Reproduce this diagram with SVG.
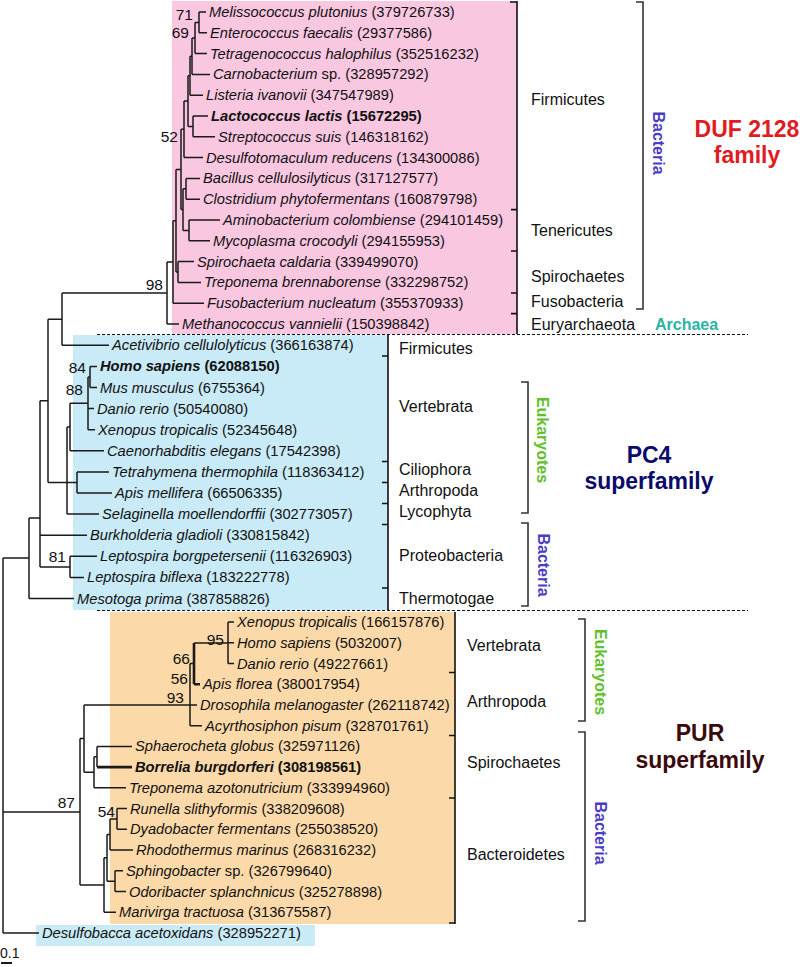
<svg xmlns="http://www.w3.org/2000/svg" width="800" height="967" viewBox="0 0 800 967">
<style>
.t{font-family:"Liberation Sans",Arial,Helvetica,sans-serif;font-size:14.7px;fill:#111}
.i{font-style:italic}
.b{font-weight:bold}
.bs{font-family:"Liberation Sans",Arial,Helvetica,sans-serif;font-size:15.5px;fill:#111;text-anchor:end}
.cat{font-family:"Liberation Sans",Arial,Helvetica,sans-serif;font-size:16px;fill:#111}
.grp{font-family:"Liberation Sans",Arial,Helvetica,sans-serif;font-size:16px;font-weight:bold;text-anchor:middle}
.big{font-family:"Liberation Sans",Arial,Helvetica,sans-serif;font-size:23px;font-weight:bold;text-anchor:middle}
.tree path{fill:none;stroke:#1a1a1a;stroke-width:1.5}
.edge{fill:none;stroke:#111;stroke-width:1.6}
.brk{fill:none;stroke:#333;stroke-width:1.6}
.dash{stroke:#111;stroke-width:1.2;stroke-dasharray:3 2}
</style>
<g id="boxes">
<rect x="172" y="1" width="345" height="333" fill="#f9c7e0"/>
<rect x="73" y="335" width="315" height="275" fill="#c9eaf7"/>
<rect x="110" y="612" width="345" height="312" fill="#fcd9a9"/>
<rect x="36" y="925" width="279" height="21" fill="#c9eaf7"/>
</g>
<g id="box-edges">
<path class="edge" d="M517,1V334 M510,2H517 M511,209.6H517 M511,251H517 M511,293H517 M511,313.6H517"/>
<path class="edge" d="M388,335V610 M382,356H388 M382,461.5H388 M382,482.5H388 M382,503.5H388 M382,524.5H388 M382,588H388"/>
<path class="edge" d="M455,612V924 M449,672.5H455 M449,735.5H455 M449,798H455 M449,923H455"/>
<line class="dash" x1="97" y1="334.5" x2="748" y2="334.5"/>
<line class="dash" x1="97" y1="610.5" x2="748" y2="610.5"/>
</g>
<g id="connectors" class="tree">
<path d="M199,12V32.8 M199,12H206 M199,32.8H207"/>
<path d="M195,22.4V53.6 M195,22.4H199 M195,53.6H207"/>
<path d="M192,38V74.4 M192,38H195 M192,74.4H210"/>
<path d="M190,56.2V95.2 M190,56.2H192 M190,95.2H203"/>
<path d="M193,116V136.8 M193,116H208 M193,136.8H215"/>
<path d="M188,75.7V126.4 M188,75.7H190 M188,126.4H193"/>
<path d="M184,101V157.6 M184,101H188 M184,157.6H203"/>
<path d="M186,178.4V199.2 M186,178.4H200 M186,199.2H200"/>
<path d="M189,220V240.8 M189,220H220 M189,240.8H210"/>
<path d="M183,188.8V230.4 M183,188.8H186 M183,230.4H189"/>
<path d="M181,129.3V209.6 M181,129.3H184 M181,209.6H183"/>
<path d="M178,261.6V282.4 M178,261.6H194 M178,282.4H201"/>
<path d="M176,169.5V272 M176,169.5H181 M176,272H178"/>
<path d="M173,220.7V303.2 M173,220.7H176 M173,303.2H204"/>
<path d="M167,262V324 M167,262H173 M167,324H179"/>
<path d="M62,293V345.3 M62,293H167 M62,345.3H109"/>
<path d="M90,366.4V387.5 M90,366.4H97 M90,387.5H97"/>
<path d="M88,377V429.7 M88,377H90 M88,408.6H94 M88,429.7H95"/>
<path d="M70,403.3V450.8 M70,403.3H88 M70,450.8H104"/>
<path d="M77,471.9V493 M77,471.9H109 M77,493H112"/>
<path d="M67,427V514.1 M67,427H70 M67,482.5H77 M67,514.1H99"/>
<path d="M48,319.2V482.5 M48,319.2H62 M48,482.5H67"/>
<path d="M70,556.3V577.4 M70,556.3H97 M70,577.4H84"/>
<path d="M40,400.8V566.9 M40,400.8H48 M40,535.2H87 M40,566.9H70"/>
<path d="M29,518V598.5 M29,518H40 M29,598.5H74"/>
<path d="M3,558V933 M3,558H29 M3,812H80 M3,933H39"/>
<path d="M228,622V663.5 M228,622H234 M228,642.7H234 M228,663.5H234"/>
<path d="M194,643H228"/>
<path d="M194,643V684.2 M194,684.2H200" style="stroke-width:2.6"/>
<path d="M190,663.6V725.7 M190,663.6H194 M190,704.9H197 M190,725.7H202"/>
<path d="M84,704.9H190"/>
<path d="M97,746.4V767.1 M97,746.4H132"/>
<path d="M97,767.1H132" style="stroke-width:2.6"/>
<path d="M94,756.8V787.8 M94,756.8H97 M94,787.8H126"/>
<path d="M84,704.9V772.3 M84,772.3H94"/>
<path d="M117,808.6V829.3 M117,808.6H127 M117,829.3H127"/>
<path d="M110,819V850 M110,819H117 M110,850H133"/>
<path d="M115,870.8V891.5 M115,870.8H123 M115,891.5H126"/>
<path d="M107,834.5V881.2 M107,834.5H110 M107,881.2H115"/>
<path d="M104,857.8V912.2 M104,857.8H107 M104,912.2H116"/>
<path d="M80,738.6V885 M80,738.6H84 M80,885H104"/>
<path d="M1,963H12" style="stroke-width:2"/>
</g>
<g id="support">
<text class="bs" x="193" y="19.5">71</text>
<text class="bs" x="189" y="37.5">69</text>
<text class="bs" x="178" y="141.5">52</text>
<text class="bs" x="163" y="290">98</text>
<text class="bs" x="86" y="373">84</text>
<text class="bs" x="83" y="395">88</text>
<text class="bs" x="66" y="562">81</text>
<text class="bs" x="224" y="644.5">95</text>
<text class="bs" x="190" y="663.5">66</text>
<text class="bs" x="188" y="683.5">56</text>
<text class="bs" x="184" y="702.5">93</text>
<text class="bs" x="75" y="808">87</text>
<text class="bs" x="115" y="816.5">54</text>
<text class="t" x="0" y="958" style="font-size:14px">0.1</text>
</g>
<g id="taxa">
<text id="n1" class="t" x="209" y="17"><tspan class="i">Melissococcus plutonius</tspan> (379726733)</text>
<text id="n2" class="t" x="210" y="37.8"><tspan class="i">Enterococcus faecalis</tspan> (29377586)</text>
<text id="n3" class="t" x="210" y="58.6"><tspan class="i">Tetragenococcus halophilus</tspan> (352516232)</text>
<text id="n4" class="t" x="213" y="79.4"><tspan class="i">Carnobacterium</tspan> sp. (328957292)</text>
<text id="n5" class="t" x="206" y="100.2"><tspan class="i">Listeria ivanovii</tspan> (347547989)</text>
<text id="n6" class="t b" x="211" y="121"><tspan class="i">Lactococcus lactis</tspan> (15672295)</text>
<text id="n7" class="t" x="218" y="141.8"><tspan class="i">Streptococcus suis</tspan> (146318162)</text>
<text id="n8" class="t" x="206" y="162.6"><tspan class="i">Desulfotomaculum reducens</tspan> (134300086)</text>
<text id="n9" class="t" x="203" y="183.4"><tspan class="i">Bacillus cellulosilyticus</tspan> (317127577)</text>
<text id="n10" class="t" x="203" y="204.2"><tspan class="i">Clostridium phytofermentans</tspan> (160879798)</text>
<text id="n11" class="t" x="223" y="225"><tspan class="i">Aminobacterium colombiense</tspan> (294101459)</text>
<text id="n12" class="t" x="213" y="245.8"><tspan class="i">Mycoplasma crocodyli</tspan> (294155953)</text>
<text id="n13" class="t" x="197" y="266.6"><tspan class="i">Spirochaeta caldaria</tspan> (339499070)</text>
<text id="n14" class="t" x="204" y="287.4"><tspan class="i">Treponema brennaborense</tspan> (332298752)</text>
<text id="n15" class="t" x="207" y="308.2"><tspan class="i">Fusobacterium nucleatum</tspan> (355370933)</text>
<text id="n16" class="t" x="182" y="329"><tspan class="i">Methanococcus vannielii</tspan> (150398842)</text>
<text id="n17" class="t" x="112" y="350.3"><tspan class="i">Acetivibrio cellulolyticus</tspan> (366163874)</text>
<text id="n18" class="t b" x="100" y="371.4"><tspan class="i">Homo sapiens</tspan> (62088150)</text>
<text id="n19" class="t" x="100" y="392.5"><tspan class="i">Mus musculus</tspan> (6755364)</text>
<text id="n20" class="t" x="97" y="413.6"><tspan class="i">Danio rerio</tspan> (50540080)</text>
<text id="n21" class="t" x="98" y="434.7"><tspan class="i">Xenopus tropicalis</tspan> (52345648)</text>
<text id="n22" class="t" x="107" y="455.8"><tspan class="i">Caenorhabditis elegans</tspan> (17542398)</text>
<text id="n23" class="t" x="112" y="476.9"><tspan class="i">Tetrahymena thermophila</tspan> (118363412)</text>
<text id="n24" class="t" x="115" y="498"><tspan class="i">Apis mellifera</tspan> (66506335)</text>
<text id="n25" class="t" x="102" y="519.1"><tspan class="i">Selaginella moellendorffii</tspan> (302773057)</text>
<text id="n26" class="t" x="90" y="540.2"><tspan class="i">Burkholderia gladioli</tspan> (330815842)</text>
<text id="n27" class="t" x="100" y="561.3"><tspan class="i">Leptospira borgpetersenii</tspan> (116326903)</text>
<text id="n28" class="t" x="87" y="582.4"><tspan class="i">Leptospira biflexa</tspan> (183222778)</text>
<text id="n29" class="t" x="77" y="603.5"><tspan class="i">Mesotoga prima</tspan> (387858826)</text>
<text id="n30" class="t" x="237" y="627"><tspan class="i">Xenopus tropicalis</tspan> (166157876)</text>
<text id="n31" class="t" x="237" y="647.7"><tspan class="i">Homo sapiens</tspan> (5032007)</text>
<text id="n32" class="t" x="237" y="668.5"><tspan class="i">Danio rerio</tspan> (49227661)</text>
<text id="n33" class="t" x="203" y="689.2"><tspan class="i">Apis florea</tspan> (380017954)</text>
<text id="n34" class="t" x="200" y="709.9"><tspan class="i">Drosophila melanogaster</tspan> (262118742)</text>
<text id="n35" class="t" x="205" y="730.7"><tspan class="i">Acyrthosiphon pisum</tspan> (328701761)</text>
<text id="n36" class="t" x="135" y="751.4"><tspan class="i">Sphaerocheta globus</tspan> (325971126)</text>
<text id="n37" class="t b" x="135" y="772.1"><tspan class="i">Borrelia burgdorferi</tspan> (308198561)</text>
<text id="n38" class="t" x="129" y="792.8"><tspan class="i">Treponema azotonutricium</tspan> (333994960)</text>
<text id="n39" class="t" x="130" y="813.6"><tspan class="i">Runella slithyformis</tspan> (338209608)</text>
<text id="n40" class="t" x="130" y="834.3"><tspan class="i">Dyadobacter fermentans</tspan> (255038520)</text>
<text id="n41" class="t" x="136" y="855"><tspan class="i">Rhodothermus marinus</tspan> (268316232)</text>
<text id="n42" class="t" x="126" y="875.8"><tspan class="i">Sphingobacter</tspan> sp. (326799640)</text>
<text id="n43" class="t" x="129" y="896.5"><tspan class="i">Odoribacter splanchnicus</tspan> (325278898)</text>
<text id="n44" class="t" x="119" y="917.2"><tspan class="i">Marivirga tractuosa</tspan> (313675587)</text>
<text id="n45" class="t" x="42" y="938"><tspan class="i">Desulfobacca acetoxidans</tspan> (328952271)</text>
</g>
<g id="categories">
<text class="cat" x="531" y="105">Firmicutes</text>
<text class="cat" x="531" y="236">Tenericutes</text>
<text class="cat" x="531" y="282">Spirochaetes</text>
<text class="cat" x="531" y="307">Fusobacteria</text>
<text class="cat" x="531" y="330">Euryarchaeota</text>
<text class="cat" x="399" y="354">Firmicutes</text>
<text class="cat" x="399" y="412">Vertebrata</text>
<text class="cat" x="399" y="475">Ciliophora</text>
<text class="cat" x="399" y="496">Arthropoda</text>
<text class="cat" x="399" y="517">Lycophyta</text>
<text class="cat" x="399" y="561">Proteobacteria</text>
<text class="cat" x="399" y="604">Thermotogae</text>
<text class="cat" x="467" y="651">Vertebrata</text>
<text class="cat" x="467" y="707">Arthropoda</text>
<text class="cat" x="467" y="768">Spirochaetes</text>
<text class="cat" x="467" y="860">Bacteroidetes</text>
</g>
<g id="brackets">
<path class="brk" d="M636,2H643V309H636"/>
<path class="brk" d="M521,382H528V513H521"/>
<path class="brk" d="M521,523H528V606H521"/>
<path class="brk" d="M578,619H585V721H578"/>
<path class="brk" d="M578,732H585V921H578"/>
</g>
<g id="groups">
<text class="grp" transform="translate(659,143) rotate(90)" y="5.7" fill="#4b3cc4">Bacteria</text>
<text class="grp" x="655" y="330" style="text-anchor:start" fill="#2bb3a6">Archaea</text>
<text class="grp" transform="translate(543,440) rotate(90)" y="5.7" fill="#62c02c">Eukaryotes</text>
<text class="grp" transform="translate(544,565) rotate(90)" y="5.7" fill="#4b3cc4">Bacteria</text>
<text class="grp" transform="translate(601,672) rotate(90)" y="5.7" fill="#62c02c">Eukaryotes</text>
<text class="grp" transform="translate(601,833) rotate(90)" y="5.7" fill="#4b3cc4">Bacteria</text>
</g>
<g id="families">
<text class="big" x="747" y="137" fill="#e01b22">DUF 2128</text>
<text class="big" x="747" y="163" fill="#e01b22">family</text>
<text class="big" x="649" y="463" fill="#0b0b6b">PC4</text>
<text class="big" x="649" y="489" fill="#0b0b6b">superfamily</text>
<text class="big" x="700" y="741" fill="#3a0a0c">PUR</text>
<text class="big" x="700" y="768" fill="#3a0a0c">superfamily</text>
</g>
</svg>
